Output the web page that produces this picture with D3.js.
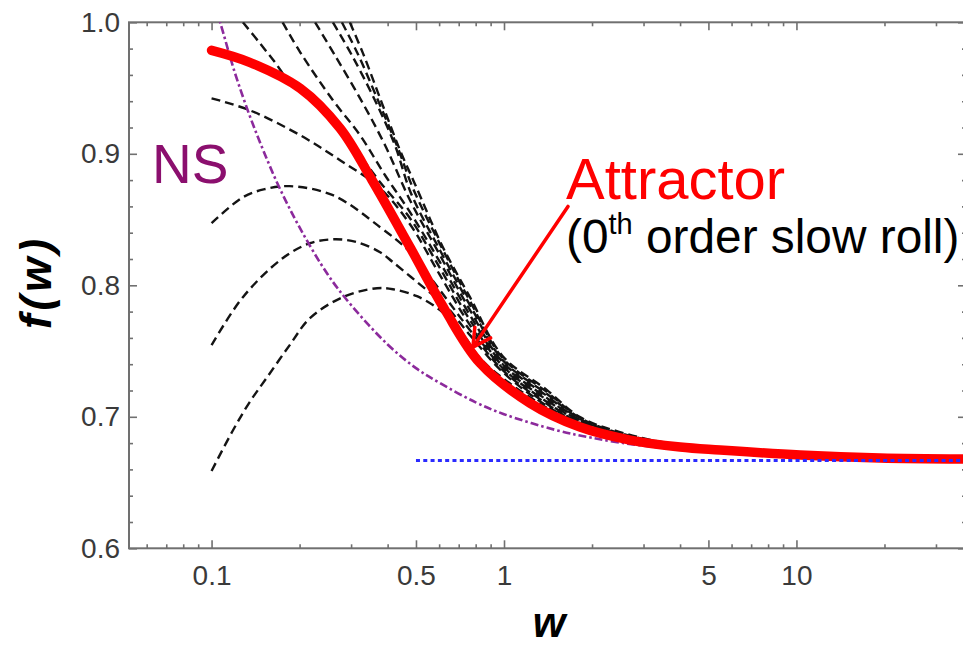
<!DOCTYPE html>
<html>
<head>
<meta charset="utf-8">
<script src="https://cdn.jsdelivr.net/npm/d3@7"></script>
<style>
  html, body { margin: 0; padding: 0; background: #fff; }
  svg { display: block; font-family: "Liberation Sans", Arial, sans-serif; }
</style>
</head>
<body>
<svg id="chart" width="963" height="645"></svg>
<script>
// values, as [w, f(w)]
const attractor = [[0.1,0.9787],[0.135,0.9696],[0.201,0.9498],[0.275,0.9194],[0.354,0.8799],[0.477,0.8290],
  [0.629,0.7811],[0.828,0.7408],[1.227,0.7104],[1.819,0.6922],[2.7,0.6823],[4,0.6770],[5.48,0.6747],
  [10.3,0.6709],[19.3,0.6686],[38,0.6678]];

const navierStokes = [[0.1,1.021],[0.107,1.0],[0.12,0.962],[0.135,0.929],[0.15,0.903],[0.17,0.875],[0.2,0.844],
  [0.25,0.808],[0.3,0.785],[0.4,0.755],[0.5,0.737],[0.6,0.726],[0.8,0.711],[1,0.702],[1.5,0.690],[2,0.684],
  [3,0.678],[5,0.674],[10,0.670],[20,0.668],[38,0.6676]];

const asymptote = [[0.5,0.6667],[38,0.6667]];

// numerical solutions (dashed), lowest start first
const trajD = [[0.1,0.6588],[0.118,0.6892],[0.135,0.7112],[0.155,0.7302],[0.185,0.7545],[0.217,0.7750],
  [0.281,0.7910],[0.368,0.7978],[0.417,0.7970],[0.504,0.7917],[0.604,0.7811],[0.707,0.7659],[0.828,0.7446],
  [0.99,0.7294],[1.403,0.7067],[1.819,0.6937],[2.49,0.6846],[4,0.6770],[10.3,0.6709],[37,0.6679]];
const trajC = [[0.1,0.7545],[0.128,0.7910],[0.175,0.8206],[0.217,0.8320],[0.264,0.8350],[0.314,0.8328],[0.377,0.8252],
  [0.417,0.8176],[0.545,0.7963],[0.629,0.7849],[0.765,0.7621],[0.99,0.7340],[1.403,0.7082],[1.819,0.6945],
  [2.49,0.6846],[4,0.6770],[10.3,0.6709],[37,0.6679]];
const trajB = [[0.1,0.8472],[0.128,0.8670],[0.152,0.8731],[0.185,0.8754],[0.26,0.8685],[0.377,0.8442],[0.477,0.8252],
  [0.604,0.7963],[0.765,0.7659],[0.99,0.7355],[1.403,0.7097],[1.819,0.6945],[2.49,0.6854],[4,0.6770],
  [10.3,0.6709],[37,0.6679]];
const trajA = [[0.1,0.9422],[0.135,0.9331],[0.201,0.9141],[0.275,0.8951],[0.377,0.8738],[0.477,0.8464],[0.604,0.8077],
  [0.765,0.7697],[0.99,0.7370],[1.403,0.7112],[1.819,0.6952],[2.49,0.6854],[4,0.6778],[10.3,0.6709],[37,0.6679]];
const trajE1 = [[0.128,1.0],[0.1464,0.984],[0.1647,0.9696],[0.185,0.9544],[0.217,0.9422],[0.275,0.9210],[0.322,0.8989],
  [0.377,0.8784],[0.477,0.8510],[0.604,0.8130],[0.765,0.7735],[0.99,0.7385],[1.403,0.7127],[1.819,0.6960],
  [2.49,0.6861],[4,0.6778],[10.3,0.6709],[37,0.6679]];
const trajE2 = [[0.175,1.0],[0.201,0.9772],[0.26,0.9407],[0.322,0.9141],[0.392,0.8837],[0.477,0.8556],[0.604,0.8176],
  [0.765,0.7773],[0.99,0.7400],[1.403,0.7142],[1.819,0.6968],[2.49,0.6861],[4,0.6778],[10.3,0.6709],[37,0.6679]];
const trajE3 = [[0.226,1.0],[0.264,0.9749],[0.322,0.9422],[0.392,0.9065],[0.477,0.8647],[0.604,0.8229],[0.765,0.7811],
  [0.99,0.7416],[1.403,0.7158],[1.819,0.6975],[2.49,0.6869],[4,0.6778],[10.3,0.6709],[37,0.6679]];
const trajE4 = [[0.26,1.0],[0.302,0.9749],[0.362,0.9407],[0.4238,0.9065],[0.4807,0.870],[0.604,0.8267],[0.765,0.7849],
  [0.99,0.7431],[1.403,0.7173],[1.819,0.6983],[2.49,0.6869],[4,0.6785],[10.3,0.6709],[37,0.6679]];
const trajE5 = [[0.279,1.0],[0.3167,0.9757],[0.3707,0.9407],[0.4339,0.9042],[0.4883,0.8738],[0.604,0.8313],[0.765,0.7880],
  [0.99,0.7446],[1.403,0.7188],[1.819,0.6991],[2.49,0.6876],[4,0.6785],[10.3,0.6709],[37,0.6679]];
const trajE6 = [[0.297,1.0],[0.3295,0.9764],[0.3826,0.9384],[0.441,0.9027],[0.4962,0.8769],[0.618,0.8290],[0.765,0.7910],
  [0.99,0.7461],[1.403,0.7203],[1.819,0.6998],[2.49,0.6884],[4,0.6785],[10.3,0.6709],[37,0.6679]];
const trajectories = [trajD, trajC, trajB, trajA, trajE1, trajE2, trajE3, trajE4, trajE5, trajE6];

// ticks
const xMajor = [0.1, 0.5, 1, 5, 10];
const xMinor = [0.06,0.07,0.08,0.09,0.2,0.3,0.4,0.6,0.7,0.8,0.9,2,3,4,6,7,8,9,20,30];
const yMajor = [0.6, 0.7, 0.8, 0.9, 1.0];
const yMinor = [0.62,0.64,0.66,0.68,0.72,0.74,0.76,0.78,0.82,0.84,0.86,0.88,0.92,0.94,0.96,0.98];

// annotation anchors [w, f]
const arrowFrom = [1.655, 0.860];
const arrowTo = [0.783, 0.753];

const svg = d3.select('#chart');
const plotLeft = 129, plotRight = 966, plotTop = 22.3, plotBottom = 548.3;

const x = d3.scaleLog().domain([0.0522, 38]).range([plotLeft, plotRight]);
const y = d3.scaleLinear().domain([0.6, 1.0]).range([plotBottom, plotTop]);

svg.append('rect').attr('width', 963).attr('height', 645).attr('fill', '#fff');

svg.append('defs').append('clipPath').attr('id', 'plotclip')
  .append('rect').attr('x', plotLeft).attr('y', plotTop)
  .attr('width', plotRight - plotLeft).attr('height', plotBottom - plotTop);

// axes, ticks inward on all four sides
const tickColor = '#707070';
function styleAxis(g) {
  g.select('.domain').remove();
  g.selectAll('.tick line').attr('stroke', tickColor).attr('stroke-width', 1.6);
  g.selectAll('.tick text').attr('fill', '#3a3a3a').style('font-size', '28px');
}
svg.append('g').attr('transform', `translate(0,${plotBottom})`)
  .call(d3.axisBottom(x).tickValues(xMajor).tickSize(-8).tickPadding(17).tickFormat(d => String(d)))
  .call(styleAxis);
svg.append('g').attr('transform', `translate(0,${plotBottom})`)
  .call(d3.axisBottom(x).tickValues(xMinor).tickSize(-4).tickFormat(''))
  .call(styleAxis);
svg.append('g').attr('transform', `translate(0,${plotTop})`)
  .call(d3.axisTop(x).tickValues(xMajor).tickSize(-8).tickFormat(''))
  .call(styleAxis);
svg.append('g').attr('transform', `translate(0,${plotTop})`)
  .call(d3.axisTop(x).tickValues(xMinor).tickSize(-4).tickFormat(''))
  .call(styleAxis);
svg.append('g').attr('transform', `translate(${plotLeft},0)`)
  .call(d3.axisLeft(y).tickValues(yMajor).tickSize(-8).tickPadding(9).tickFormat(d3.format('.1f')))
  .call(styleAxis);
svg.append('g').attr('transform', `translate(${plotLeft},0)`)
  .call(d3.axisLeft(y).tickValues(yMinor).tickSize(-4).tickFormat(''))
  .call(styleAxis);
svg.append('g').attr('transform', `translate(${plotRight},0)`)
  .call(d3.axisRight(y).tickValues(yMajor).tickSize(-8).tickFormat(''))
  .call(styleAxis);
svg.append('g').attr('transform', `translate(${plotRight},0)`)
  .call(d3.axisRight(y).tickValues(yMinor).tickSize(-4).tickFormat(''))
  .call(styleAxis);

svg.append('rect')
  .attr('x', plotLeft).attr('y', plotTop).attr('width', plotRight - plotLeft).attr('height', plotBottom - plotTop)
  .attr('fill', 'none').attr('stroke', tickColor).attr('stroke-width', 2);

const line = d3.line().x(d => x(d[0])).y(d => y(d[1])).curve(d3.curveCatmullRom.alpha(0.5));
const plot = svg.append('g').attr('clip-path', 'url(#plotclip)');

plot.selectAll('path.traj')
  .data(trajectories)
  .enter()
  .append('path')
  .attr('class', 'traj')
  .attr('d', line)
  .attr('fill', 'none')
  .attr('stroke', '#141414')
  .attr('stroke-width', 2.4)
  .attr('stroke-dasharray', '9,5');

plot.append('path')
  .attr('d', line(navierStokes))
  .attr('fill', 'none')
  .attr('stroke', '#8c2a9c')
  .attr('stroke-width', 2.6)
  .attr('stroke-dasharray', '8,3,2.5,3');

plot.append('path')
  .attr('d', line(attractor))
  .attr('fill', 'none')
  .attr('stroke', '#ff0000')
  .attr('stroke-width', 9.5)
  .attr('stroke-linecap', 'round');

plot.append('path')
  .attr('d', line(asymptote))
  .attr('fill', 'none')
  .attr('stroke', '#2b2bff')
  .attr('stroke-width', 3)
  .attr('stroke-dasharray', '4,3.3');

// axis titles
svg.append('text')
  .attr('transform', `translate(51,282) rotate(-90)`)
  .attr('text-anchor', 'middle')
  .style('font-size', '44px').style('font-weight', 'bold').style('font-style', 'italic')
  .style('letter-spacing', '4px')
  .text('f(w)');

svg.append('text')
  .attr('x', 549).attr('y', 637)
  .attr('text-anchor', 'middle')
  .style('font-size', '42px').style('font-weight', 'bold').style('font-style', 'italic')
  .text('w');

// annotations
svg.append('text')
  .attr('x', 152).attr('y', 183)
  .attr('fill', '#8b0f6e')
  .style('font-size', '55px')
  .text('NS');

svg.append('text')
  .attr('x', 566).attr('y', 199)
  .attr('fill', '#ff0000')
  .style('font-size', '58px')
  .text('Attractor');

const sub = svg.append('text').attr('x', 566).attr('y', 253).attr('fill', '#000').style('font-size', '47.8px');
sub.append('tspan').text('(0');
sub.append('tspan').attr('dy', -19).style('font-size', '29px').text('th');
sub.append('tspan').attr('dy', 19).text(' order slow roll)');

// arrow
const ax0 = x(arrowFrom[0]), ay0 = y(arrowFrom[1]);
const ax1 = x(arrowTo[0]), ay1 = y(arrowTo[1]);
const ang = Math.atan2(ay1 - ay0, ax1 - ax0);
const headLen = 20, spread = 0.5;
const arrow = svg.append('g').attr('stroke', '#ff0000').attr('stroke-width', 3.5).attr('fill', 'none')
  .attr('stroke-linecap', 'round');
arrow.append('line').attr('x1', ax0).attr('y1', ay0).attr('x2', ax1).attr('y2', ay1);
arrow.append('polyline').attr('points', [
  [ax1 - headLen * Math.cos(ang - spread), ay1 - headLen * Math.sin(ang - spread)],
  [ax1, ay1],
  [ax1 - headLen * Math.cos(ang + spread), ay1 - headLen * Math.sin(ang + spread)]
].map(p => p.join(',')).join(' '));
</script>
</body>
</html>
